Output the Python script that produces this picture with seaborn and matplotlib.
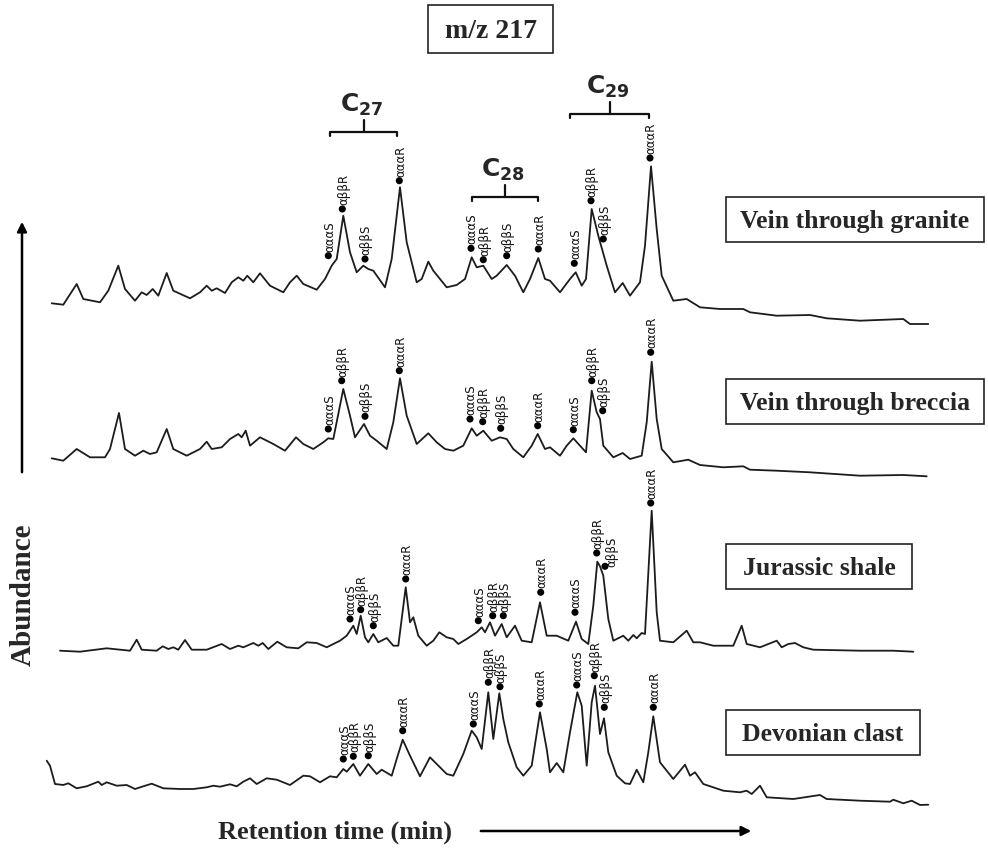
import numpy as np
import pandas as pd
import matplotlib
matplotlib.use("Agg")
import matplotlib.pyplot as plt
from matplotlib.patches import Rectangle
import seaborn as sns

# ---------------- data (retention time in arbitrary units, abundance relative to each trace baseline)
granite_rt = [51.7, 63.3, 76.7, 83.3, 100, 108.3, 118.3, 125, 135, 141.7, 146.7, 152.7, 158.3, 166.7, 173.3,
              190, 200, 206.7, 211.7, 216.7, 225, 231.7, 238.3, 243.3, 247.3, 253.3, 260, 270, 283.3, 290,
              296.7, 303.3, 316.7, 325, 331.7, 336.7, 343.3, 350, 356.7, 363.3, 368.3, 373.3, 385, 391.7, 400,
              406.7, 416.7, 421.7, 428.3, 433.3, 440, 446.7, 456.7, 465, 471.7, 476.7, 483.3, 491.7, 496.7,
              506.7, 515, 523.3, 530, 538.3, 545, 550, 560, 570, 575.7, 581.7, 586, 591.7, 598.3, 606.7, 615,
              622.7, 630, 640, 645, 651, 656.7, 661.7, 673.3, 686.7, 700, 720, 743.3, 750, 776.7, 810, 826.7,
              860, 903.3, 910, 928.3]
granite_ab = [25.7, 24.3, 45, 30, 26.7, 38.3, 63.3, 40, 28.3, 36.7, 34, 40, 33.3, 56, 38.3,
              30.7, 36.7, 43.3, 38.3, 40.7, 36, 46.7, 51.7, 48.3, 53.3, 46.7, 55.7, 43.3, 36.7, 46.7,
              53.3, 45, 39.3, 50, 63.3, 70, 113.3, 76.7, 56.7, 63.3, 60, 58.3, 41.7, 70, 141.7,
              86.7, 46.7, 50, 67.3, 58.3, 50, 41.7, 44, 50, 71.7, 61.7, 63.3, 50, 53.3,
              64, 53.3, 36.7, 50, 71, 50, 48.3, 36.7, 50, 56.7, 43.3, 50, 120, 93.3, 63.3, 36.7,
              46, 33.3, 46.7, 83.3, 162.7, 100, 53.3, 28.3, 30, 21.7, 20, 20, 16.7, 13.3, 14, 10.7,
              8.3, 10, 5, 5]

breccia_rt = [51.7, 63.3, 76.7, 90, 105, 110, 119, 125, 135, 143.3, 150, 156.7, 166.7, 173.3, 186.7,
              200, 206.7, 211.7, 221.7, 230, 238.3, 241.7, 245.7, 250, 260, 273.3, 285, 296, 303.3, 313.3,
              323.3, 328.3, 333.3, 343.3, 350, 355, 364, 370, 376.7, 386.7, 393.3, 400, 406.7, 416.7, 428.3,
              436.7, 445, 453.3, 463.3, 471.7, 476.7, 483.3, 491.7, 500, 506.7, 513.3, 523.3, 531.7, 537.7,
              545, 550, 560, 566.7, 573.3, 580, 586, 591.7, 596.7, 600, 603.3, 613.3, 622.7, 630, 641.7,
              646.7, 651.7, 656.7, 661.7, 673.3, 688.3, 700, 723.3, 743.3, 750, 776.7, 810, 860, 903.3, 926.7]
breccia_ab = [20.7, 18.3, 30, 21.7, 21.7, 30, 66, 30, 23.3, 28.3, 25, 26.7, 50, 30, 23.3,
              30, 37.3, 30, 31.7, 40, 45, 41.7, 48.3, 33.3, 41.7, 35, 28.3, 41.7, 35, 30,
              36.7, 40.7, 40, 90, 63.3, 41.7, 55, 43.3, 38.3, 30, 56.7, 100.7, 63.3, 35, 45.7,
              36.7, 30, 28.3, 33.3, 50.7, 43.3, 48.3, 38.3, 41.7, 40, 30, 21.7, 33.3, 45,
              30, 31.7, 23.3, 33.3, 40.7, 33.3, 26.7, 88.3, 66.7, 60, 33.3, 21.7, 26, 20, 23.3,
              56.7, 117.3, 60, 30, 16.7, 19.3, 14, 11.7, 12.7, 9.3, 8.3, 6.7, 3.3, 4, 2.7]

jurassic_rt = [60, 80, 106.7, 130, 136.7, 141.7, 156.7, 162.7, 168.3, 173.3, 178.3, 185, 191.7, 206.7,
               221.7, 230, 238.3, 243.3, 253.3, 258.3, 262.7, 268.3, 277.3, 286.7, 298.3, 306.7, 316.7,
               326.7, 340, 346.7, 353.3, 356.7, 360.7, 365, 368.3, 373.3, 378.3, 386.7, 393.3, 398.3, 405.7,
               410, 413.3, 418.3, 426.7, 433.3, 439.3, 446.7, 453.3, 458.3, 466.7, 476.7, 481.7, 485, 490,
               495, 501.7, 506.7, 515, 521.7, 531.7, 540, 546.7, 556.7, 568.3, 576, 581.7, 588.3, 593.3,
               597.3, 600, 603.3, 608.3, 613.3, 623.3, 628.3, 633.3, 636.7, 641.7, 645, 651.7, 656.7, 660,
               673.3, 686.7, 693.3, 700, 713.3, 733.3, 741.7, 746.7, 760, 776.7, 781.7, 788.3, 795, 803.3,
               813.3, 860, 893.3, 913.3]
jurassic_ab = [3.3, 2.3, 5.7, 3.3, 14.3, 4.3, 3.3, 7.7, 5, 6.7, 4.3, 14, 4.3, 4.3,
               10, 5, 8.3, 6.7, 11, 8.3, 11, 5, 12.3, 6.7, 5.7, 11.7, 11,
               6.7, 13.3, 18.3, 28.3, 20, 38.3, 16.7, 11.7, 20, 11.7, 16, 8.3, 8.3, 66.7,
               31.7, 36.7, 18.3, 8.3, 13.3, 21.7, 16.7, 15, 10, 15, 21.7, 26.7, 21.7, 31.7,
               18.3, 30, 16.7, 28.3, 13.3, 11.7, 51.7, 18.3, 18.3, 13.3, 32.3, 15, 10, 48.3,
               92.3, 87.7, 78.3, 35, 13.3, 18.3, 13.3, 19, 15.7, 21, 20, 143.3, 41.7, 13.3,
               11.7, 23.3, 11.7, 11.7, 8.3, 8.3, 28.3, 10, 6.7, 13.3, 6.7, 10, 11, 6.7,
               4.3, 3.3, 3.3, 2.3]

devonian_rt = [46.7, 50, 55, 63.3, 68.3, 76.7, 86.7, 98.3, 101.7, 106.7, 116.7, 126.7, 135, 143.3, 151.7,
               163.3, 180, 193.3, 206.7, 213.3, 220, 230, 236.7, 243.3, 250, 256.7, 266.7, 276.7, 290,
               303.3, 310, 320, 330, 336.7, 343.3, 346.7, 353.3, 360, 368.3, 376.7, 381.7, 391.7, 396.7,
               402.7, 410, 420, 430, 436.7, 446.7, 453.3, 463.3, 471.7, 476.7, 481.7, 488.3, 493.3, 499.3,
               503.3, 508.3, 516.7, 523.3, 531.7, 540, 546.7, 550, 556.7, 563.3, 570, 577.3, 581.7, 586.7,
               591.7, 595, 600, 604, 608.3, 616.7, 625, 630, 636.7, 643.3, 648.3, 653.3, 660, 673.3, 685,
               690, 695, 703.3, 723.3, 740, 746.7, 751.7, 760, 766.7, 793.3, 820, 826.7, 860, 890, 893.3,
               903.3, 911.7, 920, 928.3]
devonian_ab = [48.3, 43.3, 25, 24, 25.7, 20.7, 22.7, 27.3, 24, 26.7, 23.3, 24, 20, 22.7, 25.3,
               20.7, 20, 20, 21.7, 23.3, 22.3, 24.7, 22.7, 27.3, 30.7, 25, 30.7, 29.3, 24,
               33.3, 32.7, 26.7, 32.7, 31.7, 40, 37.3, 45, 33.3, 45, 35, 39.3, 33.3, 50,
               69.3, 53.3, 32.7, 51.7, 45, 35, 33.3, 55, 78.3, 71.7, 60, 116.7, 70, 115.7,
               90, 66.7, 41.7, 33.3, 43.3, 96.7, 60, 36.7, 46, 36.7, 76.7, 116.7, 103.3, 43.3,
               106.7, 123.3, 75, 90.7, 56.7, 33.3, 25.7, 25, 39.3, 26.7, 56.7, 92.7, 46.7, 30, 44.3,
               33.3, 36.7, 25, 18.3, 16.7, 18.3, 15, 23.3, 11.7, 10, 14, 10, 8.3, 7.3, 9.3,
               5.7, 8.3, 4, 4.3]

# labelled steranes (same order in every trace: C27, C28, C29 groups)
peak_names = ["αααS", "αββR", "αββS", "αααR"] * 3
granite_peak_rt = [328.3, 342.3, 365, 399.3, 471, 483.3, 506.7, 538.3, 574.3, 591, 603.3, 650]
granite_peak_ab = [73.3, 120, 70, 148.3, 80.7, 69.3, 73.3, 80, 65.7, 128.3, 90, 171]
breccia_peak_rt = [328.3, 341.7, 365, 399.3, 470, 482.7, 500.7, 537.7, 573.3, 591.7, 602.7, 650.7]
breccia_peak_ab = [50, 98.3, 62.7, 108.3, 60, 57.3, 50.7, 53.3, 49.3, 98.3, 68.3, 126.7]
jurassic_peak_rt = [350, 360.7, 373.3, 405.7, 478.3, 492.7, 503.3, 540.7, 575, 596.7, 605, 650.7]
jurassic_peak_ab = [35, 44.3, 28.3, 75, 33.3, 38.3, 38.3, 61.7, 41.7, 101, 87.7, 151]
devonian_peak_rt = [343.3, 353.3, 368.3, 402.7, 473.3, 488.3, 500, 539.3, 576.7, 594.3, 604.3, 653.3]
devonian_peak_ab = [50, 52.7, 53.3, 78.3, 85, 126.7, 122.3, 105, 124, 133.3, 101.7, 101.7]

sample_names = ["Vein through granite", "Vein through breccia", "Jurassic shale", "Devonian clast"]
group_names = ["27", "28", "29"]

# ---------------- layout (figure-pixel frame)
baselines = [330, 480, 655, 810]
label_boxes = [(726, 198, 258, 45), (726, 380, 258, 45), (726, 545, 186, 45), (726, 711, 194, 45)]
brackets = [(330, 397, 133), (471.7, 537.7, 198), (570, 649, 115)]

traces = [(granite_rt, granite_ab), (breccia_rt, breccia_ab),
          (jurassic_rt, jurassic_ab), (devonian_rt, devonian_ab)]
peaks = [(granite_peak_rt, granite_peak_ab), (breccia_peak_rt, breccia_peak_ab),
         (jurassic_peak_rt, jurassic_peak_ab), (devonian_peak_rt, devonian_peak_ab)]

line_rows, peak_rows = [], []
for name, base, (rt, ab), (prt, pab) in zip(sample_names, baselines, traces, peaks):
    for r, a in zip(rt, ab):
        line_rows.append({"sample": name, "rt": r, "y": base - a})
    for r, a, lbl in zip(prt, pab, peak_names):
        peak_rows.append({"sample": name, "rt": r, "y": base - a, "label": lbl})
lines_df = pd.DataFrame(line_rows)
peaks_df = pd.DataFrame(peak_rows)

sns.set_style("white")
plt.rcParams["font.family"] = ["DejaVu Sans"]
plt.rcParams["mathtext.fontset"] = "dejavusans"

fig = plt.figure(figsize=(9.88, 8.54), dpi=100)
ax = fig.add_axes([0, 0, 1, 1])

sns.lineplot(data=lines_df, x="rt", y="y", units="sample", estimator=None, sort=False,
             color="#1c1c1c", linewidth=1.3, ax=ax, legend=False)
sns.scatterplot(data=peaks_df, x="rt", y="y", color="black", s=26, edgecolor="none",
                ax=ax, legend=False, zorder=5)
ax.set_xlim(0, 988)
ax.set_ylim(854, 0)
ax.axis("off")

# peak labels: placed above each dot; a label crowded by its left neighbour is nudged right
prev = {}
for _, row in peaks_df.iterrows():
    dx, dy = 0.8, 3.5
    last = prev.get(row["sample"])
    if last is not None and row["rt"] - last[0] < 9.5 and row["y"] > last[1]:
        dx, dy = 5.0, 0.0
    prev[row["sample"]] = (row["rt"], row["y"])
    ax.annotate(row["label"], (row["rt"], row["y"]), xytext=(dx, dy), textcoords="offset points",
                rotation=90, ha="center", va="bottom", fontsize=8.5, color="#111111")

serif = ["Liberation Serif", "DejaVu Serif"]
for name, (bx, by, bw, bh) in zip(sample_names, label_boxes):
    ax.add_patch(Rectangle((bx, by), bw, bh, fill=False, edgecolor="#222222", lw=1.2))
    ax.text(bx + bw / 2, by + bh / 2 + 1, name, ha="center", va="center", fontsize=18.5,
            fontweight="bold", family=serif)

# title box
ax.add_patch(Rectangle((428, 6), 125, 48, fill=False, edgecolor="#222222", lw=1.2))
ax.text(490.5, 31, "m/z 217", ha="center", va="center", fontsize=20, fontweight="bold", family=serif)

# carbon-number brackets
for g, (x0, x1, yb) in zip(group_names, brackets):
    xc = (x0 + x1) / 2
    ax.plot([x0, x0, x1, x1], [yb + 4, yb, yb, yb + 4], color="#111111", lw=1.6)
    ax.plot([xc, xc], [yb, yb - 12], color="#111111", lw=1.6)
    ax.text(xc - 2, yb - 15, r"$\mathbf{C_{%s}}$" % g, ha="center", va="bottom", fontsize=18)

# axis arrows and titles
ax.annotate("", xy=(22, 220), xytext=(22, 476),
            arrowprops=dict(arrowstyle="-|>", color="black", lw=1.8, mutation_scale=14))
ax.text(23, 595, "Abundance", rotation=90, ha="center", va="center", fontsize=21,
        fontweight="bold", family=serif)
ax.annotate("", xy=(754, 832), xytext=(478, 832),
            arrowprops=dict(arrowstyle="-|>", color="black", lw=1.8, mutation_scale=14))
ax.text(335, 832, "Retention time (min)", ha="center", va="center", fontsize=19,
        fontweight="bold", family=serif)

fig.savefig("out.png", dpi=100)
